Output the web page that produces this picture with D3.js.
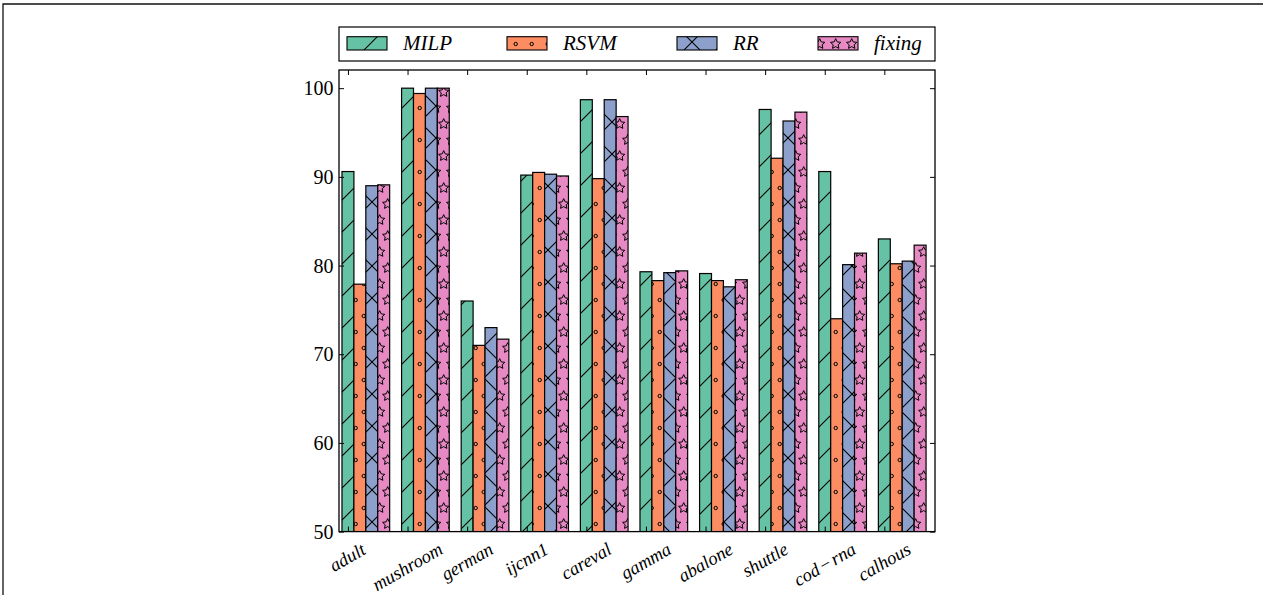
<!DOCTYPE html>
<html>
<head>
<meta charset="utf-8">
<script src="https://cdn.jsdelivr.net/npm/d3@7"></script>
<style>
  html, body { margin: 0; padding: 0; background: #fff; }
  svg { display: block; }
</style>
</head>
<body>
<script>
// Accuracy (%) per dataset for the four methods
const categories = ["adult", "mushroom", "german", "ijcnn1", "careval", "gamma", "abalone", "shuttle", "cod\u200a\u2212\u200arna", "calhous"];
const seriesNames = ["MILP", "RSVM", "RR", "fixing"];
const milp   = [90.6, 100.0, 76.0, 90.2, 98.7, 79.3, 79.1, 97.6, 90.6, 83.0];
const rsvm   = [77.9,  99.4, 71.0, 90.5, 89.8, 78.3, 78.3, 92.1, 74.0, 80.2];
const rr     = [89.0, 100.0, 73.0, 90.3, 98.7, 79.2, 77.6, 96.3, 80.1, 80.5];
const fixing = [89.1, 100.0, 71.7, 90.1, 96.8, 79.4, 78.4, 97.3, 81.4, 82.3];
const yTicks = [50, 60, 70, 80, 90, 100];

const seriesValues = [milp, rsvm, rr, fixing];
const colors = ["#66c2a5", "#fc8d62", "#8da0cb", "#e78ac3"];
const hatches = ["hatch-slash", "hatch-dots", "hatch-cross", "hatch-stars"];

const W = 1263, H = 595;
const plot = { left: 339, right: 935, top: 70, bottom: 531.6 };
const barW = 0.2;

const svg = d3.select("body").append("svg")
  .attr("width", W).attr("height", H);

// ---------- hatch patterns (tiles anchored to the page origin) ----------
const defs = svg.append("defs");
const hatchStroke = "#000";

function slashLines(g, residues, kind) {
  residues.forEach(c0 => {
    [c0 - 32, c0, c0 + 32].forEach(c => {
      if (kind === "/") {
        g.append("line").attr("x1", c + 2).attr("y1", -2).attr("x2", c - 34).attr("y2", 34);
      } else {
        g.append("line").attr("x1", c - 2).attr("y1", -2).attr("x2", c + 34).attr("y2", 34);
      }
    });
  });
}

const pSlash = defs.append("pattern").attr("id", "hatch-slash")
  .attr("patternUnits", "userSpaceOnUse").attr("x", 0).attr("y", 0)
  .attr("width", 32).attr("height", 32);
const gSlash = pSlash.append("g").attr("stroke", hatchStroke).attr("stroke-width", 1.1);
slashLines(gSlash, [30], "/");

const pCross = defs.append("pattern").attr("id", "hatch-cross")
  .attr("patternUnits", "userSpaceOnUse").attr("x", 0).attr("y", 0)
  .attr("width", 32).attr("height", 32);
const gCross = pCross.append("g").attr("stroke", hatchStroke).attr("stroke-width", 1.1);
slashLines(gCross, [30], "/");
slashLines(gCross, [10], "\\");

const gridPts = [[3.7, 12], [11.7, 28]];
const wraps = [];
[-16, 0, 16].forEach(dx => [-32, 0, 32].forEach(dy => wraps.push([dx, dy])));

const pDots = defs.append("pattern").attr("id", "hatch-dots")
  .attr("patternUnits", "userSpaceOnUse").attr("x", 0).attr("y", 0)
  .attr("width", 16).attr("height", 32);
gridPts.forEach(([cx, cy]) => wraps.forEach(([dx, dy]) => {
  pDots.append("circle").attr("cx", cx + dx).attr("cy", cy + dy).attr("r", 1.7)
    .attr("fill", "none").attr("stroke", hatchStroke).attr("stroke-width", 1);
}));

function starPath(cx, cy, ro, ri) {
  const pts = [];
  for (let i = 0; i < 10; i++) {
    const r = i % 2 === 0 ? ro : ri;
    const a = -Math.PI / 2 + i * Math.PI / 5;
    pts.push([cx + r * Math.cos(a), cy + r * Math.sin(a)]);
  }
  return "M" + pts.map(p => p[0].toFixed(2) + "," + p[1].toFixed(2)).join("L") + "Z";
}
const pStars = defs.append("pattern").attr("id", "hatch-stars")
  .attr("patternUnits", "userSpaceOnUse").attr("x", 0).attr("y", 0)
  .attr("width", 16).attr("height", 32);
gridPts.forEach(([cx, cy]) => wraps.forEach(([dx, dy]) => {
  pStars.append("path").attr("d", starPath(cx + dx, cy + dy, 5.4, 2.6))
    .attr("fill", "none").attr("stroke", hatchStroke).attr("stroke-width", 1)
    .attr("stroke-linejoin", "miter");
}));

defs.append("clipPath").attr("id", "plot-clip")
  .append("rect").attr("x", plot.left).attr("y", plot.top)
  .attr("width", plot.right - plot.left).attr("height", plot.bottom - plot.top);

// ---------- figure frame ----------
svg.append("path")
  .attr("d", `M3,${H} V4 H${W}`)
  .attr("fill", "none").attr("stroke", "#111").attr("stroke-width", 1.3);

// ---------- scales ----------
const x = d3.scaleLinear().domain([-0.15, 9.85]).range([plot.left, plot.right]);
const y = d3.scaleLinear().domain([50, 102.05]).range([plot.bottom, plot.top]);

// ---------- bars ----------
const barsG = svg.append("g").attr("clip-path", "url(#plot-clip)");
seriesValues.forEach((vals, k) => {
  const g = barsG.append("g");
  const data = vals.map((v, i) => ({ i, v }));
  const bx = d => x(d.i - barW / 2 + k * barW);
  const bw = x(barW) - x(0);
  g.selectAll("rect.base").data(data).join("rect").attr("class", "base")
    .attr("x", bx).attr("width", bw)
    .attr("y", d => y(d.v)).attr("height", d => y(50) - y(d.v) + 2)
    .attr("fill", colors[k]);
  g.selectAll("rect.hatch").data(data).join("rect").attr("class", "hatch")
    .attr("x", bx).attr("width", bw)
    .attr("y", d => y(d.v)).attr("height", d => y(50) - y(d.v) + 2)
    .attr("fill", `url(#${hatches[k]})`)
    .attr("stroke", "#000").attr("stroke-width", 1.2);
});

// ---------- axes ----------
const tickLen = 5;
const font = "'Liberation Serif', 'Times New Roman', serif";

const yLeft = svg.append("g").attr("transform", `translate(${plot.left},0)`)
  .call(d3.axisLeft(y).tickValues(yTicks).tickSize(-tickLen).tickPadding(5.5)
    .tickFormat(d3.format("d")));
const yRight = svg.append("g").attr("transform", `translate(${plot.right},0)`)
  .call(d3.axisRight(y).tickValues(yTicks).tickSize(-tickLen).tickFormat(""));
const xIdx = d3.range(categories.length);
const xTop = svg.append("g").attr("transform", `translate(0,${plot.top})`)
  .call(d3.axisTop(x).tickValues(xIdx).tickSize(-tickLen).tickFormat(""));
const xBottom = svg.append("g").attr("transform", `translate(0,${plot.bottom})`)
  .call(d3.axisBottom(x).tickValues(xIdx).tickSize(-tickLen).tickFormat(""));

[yLeft, yRight, xTop, xBottom].forEach(a => {
  a.select(".domain").remove();
  a.selectAll(".tick line").attr("stroke", "#000").attr("stroke-width", 1);
});
yLeft.selectAll(".tick text")
  .attr("font-family", font).attr("font-size", 20).attr("fill", "#000")
  .attr("dy", "0.33em");

// plot frame
svg.append("rect")
  .attr("x", plot.left).attr("y", plot.top)
  .attr("width", plot.right - plot.left).attr("height", plot.bottom - plot.top)
  .attr("fill", "none").attr("stroke", "#000").attr("stroke-width", 1.3);

// rotated category labels, centred under each tick
const labelTop = 539;
const labelsG = svg.append("g");
categories.forEach((c, i) => {
  const g = labelsG.append("g");
  g.append("text")
    .attr("font-family", font).attr("font-style", "italic").attr("font-size", 18.5)
    .attr("text-anchor", "middle").attr("dominant-baseline", "central")
    .attr("transform", "rotate(-30)")
    .text(c);
  const bb = g.node().getBBox();
  g.attr("transform", `translate(${x(i) - (bb.x + bb.width / 2)},${labelTop - bb.y})`);
});

// ---------- legend ----------
const legend = { left: 339, right: 935, top: 27, bottom: 61 };
const legendSwatchX = [347, 507, 677, 818];
const swatch = { w: 40, top: 36.7, h: 13.3, textGap: 16, baseline: 50 };
const legG = svg.append("g");
legG.append("rect")
  .attr("x", legend.left).attr("y", legend.top)
  .attr("width", legend.right - legend.left).attr("height", legend.bottom - legend.top)
  .attr("fill", "#fff").attr("stroke", "#000").attr("stroke-width", 1.2);
seriesNames.forEach((name, k) => {
  const sx = legendSwatchX[k];
  legG.append("rect").attr("x", sx).attr("y", swatch.top)
    .attr("width", swatch.w).attr("height", swatch.h).attr("fill", colors[k]);
  legG.append("rect").attr("x", sx).attr("y", swatch.top)
    .attr("width", swatch.w).attr("height", swatch.h)
    .attr("fill", `url(#${hatches[k]})`).attr("stroke", "#000").attr("stroke-width", 1.1);
  legG.append("text")
    .attr("x", sx + swatch.w + swatch.textGap).attr("y", swatch.baseline)
    .attr("font-family", font).attr("font-style", "italic").attr("font-size", 21)
    .attr("fill", "#000")
    .text(name);
});
</script>
</body>
</html>
